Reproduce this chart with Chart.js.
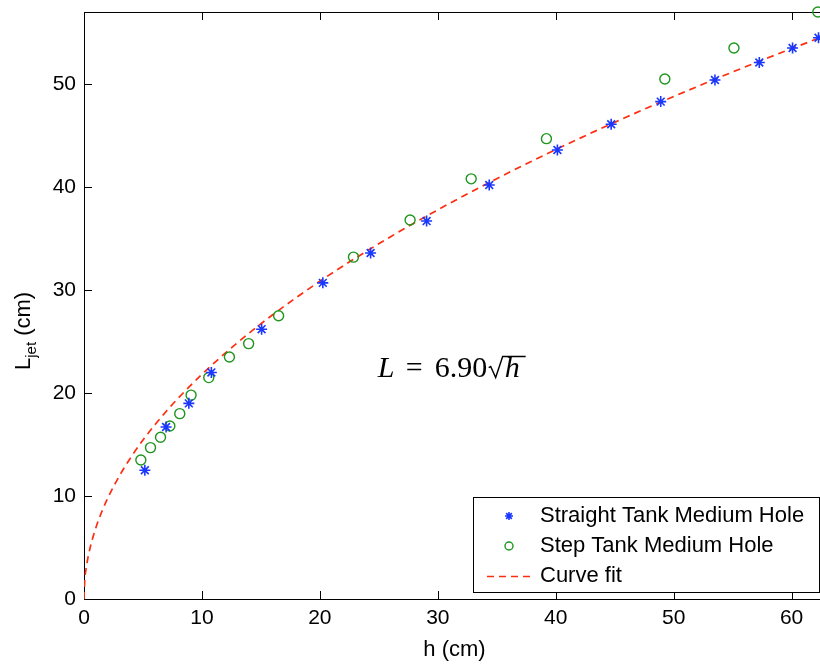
<!DOCTYPE html>
<html>
<head>
<meta charset="utf-8">
<title>L jet vs h</title>
<script src="https://cdn.jsdelivr.net/npm/chart.js@4.4.1/dist/chart.umd.min.js"></script>
<style>
  html, body { margin: 0; padding: 0; background: #fff; overflow: hidden; }
  #marco { width: 820px; height: 665px; overflow: hidden; }
  #wrap { width: 840px; height: 665px; }
  canvas { display: block; }
</style>
</head>
<body>
<div id="marco"><div id="wrap"><canvas id="chartJet" width="840" height="665"></canvas></div></div>
<script>
// Datos (h en cm, L en cm)
const straightH = [5.16, 6.96, 8.89, 10.8, 15.06, 20.25, 24.3, 29.05, 34.36, 40.14, 44.7, 48.9, 53.5, 57.26, 60.08, 62.28];
const straightL = [12.5, 16.7, 19.0, 22.0, 26.2, 30.7, 33.6, 36.7, 40.2, 43.6, 46.1, 48.3, 50.4, 52.1, 53.5, 54.5];

const stepH = [4.82, 5.64, 6.49, 7.28, 8.12, 9.08, 10.58, 12.33, 13.96, 16.5, 22.85, 27.65, 32.83, 39.21, 49.25, 55.11, 62.22];
const stepL = [13.5, 14.7, 15.7, 16.8, 18.0, 19.8, 21.5, 23.5, 24.8, 27.5, 33.2, 36.8, 40.8, 44.7, 50.5, 53.5, 57.0];

// Curva de ajuste L = 6.90 sqrt(h)
const fitH = [0, 0.05, 0.2, 0.5, 1, 1.5, 2, 3, 4, 5, 6, 7, 8, 10, 12, 14, 16, 18, 20, 23, 26, 30, 34, 38, 42, 46, 50, 54, 58, 62.3, 63.5];
const fitL = [0, 1.54, 3.09, 4.88, 6.90, 8.45, 9.76, 11.95, 13.8, 15.43, 16.90, 18.26, 19.52, 21.82, 23.90, 25.82, 27.6, 29.27, 30.86, 33.09, 35.18, 37.79, 40.23, 42.53, 44.72, 46.80, 48.79, 50.71, 52.55, 54.46, 54.98];

const xTicks = [0, 10, 20, 30, 40, 50, 60];
const yTicks = [0, 10, 20, 30, 40, 50];
const xRange = [0, 63.5];
const yRange = [0, 57];

const seriesLabels = ['Straight Tank Medium Hole', 'Step Tank Medium Hole', 'Curve fit'];

const toPoints = (xs, ys) => xs.map((x, i) => ({ x: x, y: ys[i] }));

const FONT = '"Liberation Sans", Arial, Helvetica, sans-serif';

// Marco completo con marcas hacia adentro (estilo Matlab)
const marcoPlugin = {
  id: 'marco',
  beforeDatasetsDraw(chart) {
    const ctx = chart.ctx;
    const ca = chart.chartArea;
    const sx = chart.scales.x, sy = chart.scales.y;
    const len = 8;
    ctx.save();
    ctx.strokeStyle = '#000';
    ctx.lineWidth = 1;
    ctx.beginPath();
    ctx.rect(Math.round(ca.left) + 0.5, Math.round(ca.top) + 0.5,
             Math.round(ca.right - ca.left), Math.round(ca.bottom - ca.top));
    xTicks.forEach(v => {
      const px = Math.round(sx.getPixelForValue(v)) + 0.5;
      ctx.moveTo(px, ca.bottom); ctx.lineTo(px, ca.bottom - len);
      ctx.moveTo(px, ca.top); ctx.lineTo(px, ca.top + len);
    });
    yTicks.forEach(v => {
      const py = Math.round(sy.getPixelForValue(v)) + 0.5;
      ctx.moveTo(ca.left, py); ctx.lineTo(ca.left + len, py);
      ctx.moveTo(ca.right, py); ctx.lineTo(ca.right - len, py);
    });
    ctx.stroke();
    ctx.restore();
  }
};

// Títulos de los ejes (el de Y lleva subíndice)
const titulosPlugin = {
  id: 'titulos',
  afterDraw(chart) {
    const ctx = chart.ctx;
    ctx.save();
    ctx.fillStyle = '#000';
    ctx.font = '22px ' + FONT;
    ctx.textAlign = 'center';
    ctx.textBaseline = 'middle';
    ctx.fillText('h (cm)', 454.5, 650);

    ctx.translate(30, 370);
    ctx.rotate(-Math.PI / 2);
    ctx.textAlign = 'left';
    ctx.textBaseline = 'alphabetic';
    ctx.fillText('L', 0, 0);
    let x = ctx.measureText('L').width;
    ctx.font = '15px ' + FONT;
    ctx.fillText('jet', x, 6);
    x += ctx.measureText('jet').width;
    ctx.font = '22px ' + FONT;
    ctx.fillText(' (cm)', x, 0);
    ctx.restore();
  }
};

// Ecuación del ajuste
const ecuacionPlugin = {
  id: 'ecuacion',
  afterDatasetsDraw(chart) {
    const ctx = chart.ctx;
    const x0 = chart.scales.x.getPixelForValue(24.9);
    const y0 = chart.scales.y.getPixelForValue(21.6);
    const serif = '"Liberation Serif", "Times New Roman", serif';
    ctx.save();
    ctx.fillStyle = '#000';
    ctx.strokeStyle = '#000';
    ctx.textBaseline = 'alphabetic';
    ctx.textAlign = 'left';
    ctx.font = 'italic 30px ' + serif;
    ctx.fillText('L', x0, y0);
    ctx.font = '30px ' + serif;
    ctx.fillText('=', x0 + 28, y0);
    ctx.fillText('6.90', x0 + 57, y0);
    // signo de raíz
    ctx.lineWidth = 1.4;
    ctx.beginPath();
    ctx.moveTo(x0 + 111, y0 - 9);
    ctx.lineTo(x0 + 113, y0 - 10);
    ctx.lineTo(x0 + 118, y0 + 1);
    ctx.lineTo(x0 + 125, y0 - 20);
    ctx.lineTo(x0 + 148, y0 - 20);
    ctx.stroke();
    ctx.font = 'italic 30px ' + serif;
    ctx.fillText('h', x0 + 127, y0);
    ctx.restore();
  }
};

// Leyenda dentro del área de la gráfica
const leyendaPlugin = {
  id: 'leyenda',
  afterDraw(chart) {
    const ctx = chart.ctx;
    const bx0 = 473.5, by0 = 497.5, bx1 = 819.5, by1 = 592.5;
    ctx.save();
    ctx.fillStyle = '#fff';
    ctx.fillRect(bx0, by0, bx1 - bx0, by1 - by0);
    ctx.strokeStyle = '#000';
    ctx.lineWidth = 1;
    ctx.strokeRect(bx0, by0, bx1 - bx0, by1 - by0);
    chart.data.datasets.forEach((ds, i) => {
      const cy = 516 + i * 30;
      ctx.save();
      if (ds.showLine) {
        ctx.strokeStyle = ds.borderColor;
        ctx.lineWidth = ds.borderWidth;
        ctx.setLineDash(ds.borderDash);
        ctx.beginPath();
        ctx.moveTo(487, cy + 0.5);
        ctx.lineTo(535, cy + 0.5);
        ctx.stroke();
      } else {
        ctx.strokeStyle = ds.pointBorderColor;
        ctx.fillStyle = 'rgba(0,0,0,0)';
        ctx.lineWidth = ds.pointBorderWidth;
        Chart.helpers.drawPoint(ctx, {
          pointStyle: ds.pointStyle, rotation: 0, radius: 4, borderWidth: ds.pointBorderWidth
        }, 509, cy);
      }
      ctx.restore();
      ctx.fillStyle = '#000';
      ctx.font = '22px ' + FONT;
      ctx.textBaseline = 'middle';
      ctx.textAlign = 'left';
      ctx.fillText(ds.label, 540, cy);
    });
    ctx.restore();
  }
};

// quitar el relleno automático que Chart.js añade junto a las etiquetas
const sinRelleno = (scale) => {
  scale.paddingTop = 0;
  scale.paddingBottom = 0;
  scale.paddingLeft = 0;
  scale.paddingRight = 0;
};

new Chart(document.getElementById('chartJet'), {
  type: 'scatter',
  data: {
    datasets: [
      {
        label: seriesLabels[0],
        data: toPoints(straightH, straightL),
        pointStyle: 'star',
        pointRadius: 5.5,
        pointBorderWidth: 1.6,
        pointBorderColor: 'rgb(25,55,255)',
        pointBackgroundColor: 'rgb(25,55,255)',
        clip: false
      },
      {
        label: seriesLabels[1],
        data: toPoints(stepH, stepL),
        pointStyle: 'circle',
        pointRadius: 5,
        pointBorderWidth: 1.4,
        pointBorderColor: 'rgb(30,150,30)',
        pointBackgroundColor: 'rgba(0,0,0,0)',
        clip: false
      },
      {
        label: seriesLabels[2],
        data: toPoints(fitH, fitL),
        showLine: true,
        pointRadius: 0,
        borderColor: 'rgb(255,45,15)',
        borderWidth: 1.7,
        borderDash: [7, 5],
        cubicInterpolationMode: 'monotone',
        fill: false
      }
    ]
  },
  options: {
    responsive: false,
    animation: false,
    devicePixelRatio: 1,
    layout: { padding: { top: 12, right: 1, left: 0, bottom: 0 } },
    plugins: {
      legend: { display: false },
      tooltip: { enabled: false }
    },
    scales: {
      x: {
        type: 'linear',
        min: xRange[0],
        max: xRange[1],
        afterFit: (scale) => { scale.height = 66; sinRelleno(scale); },
        afterBuildTicks: (scale) => { scale.ticks = xTicks.map(v => ({ value: v })); },
        grid: { display: false, drawTicks: false },
        border: { display: false },
        ticks: { color: '#000', font: { family: FONT, size: 21 }, padding: 7, maxRotation: 0 }
      },
      y: {
        type: 'linear',
        min: yRange[0],
        max: yRange[1],
        afterFit: (scale) => { scale.width = 84; sinRelleno(scale); },
        afterBuildTicks: (scale) => { scale.ticks = yTicks.map(v => ({ value: v })); },
        grid: { display: false, drawTicks: false },
        border: { display: false },
        ticks: { color: '#000', font: { family: FONT, size: 21 }, padding: 8 }
      }
    }
  },
  plugins: [marcoPlugin, ecuacionPlugin, leyendaPlugin, titulosPlugin]
});
</script>
</body>
</html>
